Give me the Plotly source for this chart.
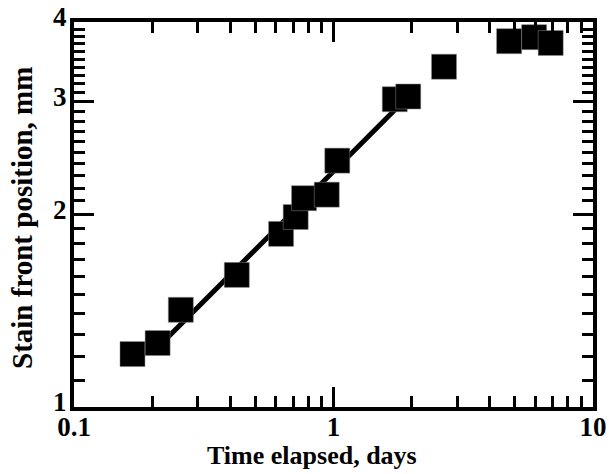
import plotly.graph_objects as go

# Data
time_days = [0.168, 0.210, 0.258, 0.424, 0.628, 0.715, 0.770, 0.942, 1.034,
             1.722, 1.941, 2.666, 4.75, 5.93, 6.87]
front_mm = [1.21, 1.259, 1.419, 1.609, 1.865, 1.982, 2.121, 2.148, 2.428,
            3.029, 3.059, 3.405, 3.733, 3.787, 3.709]

# Power-law fit line (two end points of the drawn fit)
fit_x = [0.205, 1.80]
fit_y = [1.227, 2.967]

x_tickvals = [0.1, 1, 10]
x_ticktext = ["0.1", "1", "10"]
x_minor = [0.2, 0.3, 0.4, 0.5, 0.6, 0.7, 0.8, 0.9, 2, 3, 4, 5, 6, 7, 8, 9]
y_tickvals = [1, 2, 3, 4]
y_ticktext = ["1", "2", "3", "4"]
y_minor = [round(1 + 0.1 * i, 1) for i in range(1, 30) if i not in (10, 20)]

FONT = "Liberation Serif"

fig = go.Figure()
fig.add_trace(go.Scatter(x=fit_x, y=fit_y, mode="lines",
                         line=dict(color="black", width=5), showlegend=False))
fig.add_trace(go.Scatter(x=time_days, y=front_mm, mode="markers",
                         marker=dict(symbol="square", size=25, color="black",
                                     line=dict(width=0.5, color="#888")),
                         showlegend=False))

axis_common = dict(showline=True, linewidth=4, linecolor="black", mirror="ticks",
                   ticks="inside", tickwidth=3, tickcolor="black", ticklen=20,
                   showgrid=False, zeroline=False, automargin=False,
                   tickfont=dict(family=FONT, size=27, color="black", weight="bold"))

fig.update_xaxes(type="log", range=[-1, 1], tickmode="array",
                 tickvals=x_tickvals, ticktext=x_ticktext, ticklabelstandoff=-7,
                 minor=dict(tickmode="array", tickvals=x_minor, ticks="inside",
                            ticklen=11, tickwidth=3, tickcolor="black"),
                 **axis_common)
fig.update_yaxes(type="log", range=[0, 0.60206], tickmode="array",
                 tickvals=y_tickvals, ticktext=y_ticktext, ticklabelstandoff=-2,
                 ticklabelshift=-5,
                 minor=dict(tickmode="array", tickvals=y_minor, ticks="inside",
                            ticklen=11, tickwidth=3, tickcolor="black"),
                 **axis_common)

fig.add_annotation(text="Time elapsed, days", xref="paper", yref="paper",
                   x=(312 - 74) / 519, y=-(455 - 407) / 385, showarrow=False,
                   xanchor="center", yanchor="middle",
                   font=dict(family=FONT, size=26, color="black", weight="bold"))
fig.add_annotation(text="Stain front position, mm", xref="paper", yref="paper",
                   x=-(74 - 22) / 519, y=(407 - 218) / 385, showarrow=False,
                   textangle=-90, xanchor="center", yanchor="middle",
                   font=dict(family=FONT, size=29, color="black", weight="bold"))

fig.update_layout(width=609, height=474, paper_bgcolor="white", plot_bgcolor="white",
                  margin=dict(l=74, r=16, t=22, b=67))

fig.write_html("out.html")
